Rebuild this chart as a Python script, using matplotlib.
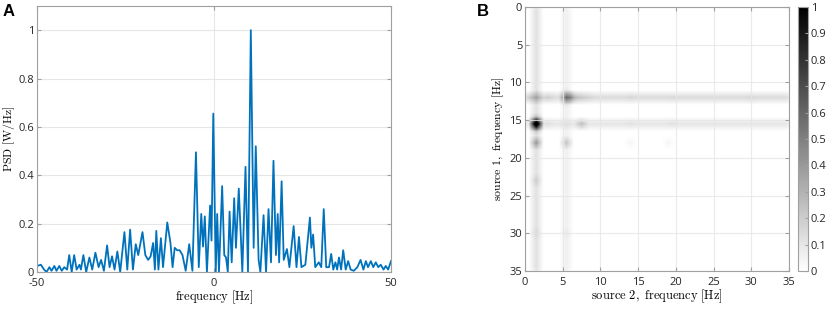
import matplotlib
matplotlib.use('Agg')
import matplotlib.pyplot as plt
import numpy as np

# --- panel A: PSD (peaks and troughs) ---
freq = [-50.0, -48.9, -48.0, -47.3, -46.5, -45.9, -45.1, -44.5, -43.7, -43.0,
        -42.3, -41.5, -40.9, -40.2, -39.5, -38.8, -38.0, -37.6, -36.9, -36.1,
        -35.2, -34.4, -33.5, -32.6, -31.9, -31.1, -30.2, -29.5, -28.8, -28.1,
        -27.3, -26.5, -25.3, -24.5, -23.7, -22.9, -22.1, -21.4, -20.2, -19.4,
        -18.6, -17.9, -17.2, -16.7, -16.3, -15.7, -15.0, -14.4, -13.2, -12.3,
        -11.7, -11.1, -10.4, -9.7, -8.9, -8.0, -7.0, -6.1, -5.1, -4.3,
        -3.6, -3.1, -2.6, -2.0, -1.1, -0.7, -0.2, 0.5, 0.9, 1.4,
        2.3, 2.9, 3.4, 3.9, 4.4, 5.0, 5.7, 6.2, 7.0, 8.0,
        8.9, 9.6, 10.4, 11.2, 11.8, 12.6, 13.1, 14.0, 14.7, 15.4,
        16.1, 16.8, 17.5, 18.0, 18.4, 19.1, 19.7, 20.6, 21.3, 22.5,
        23.3, 24.0, 24.7, 25.8, 27.1, 27.5, 28.0, 28.6, 29.6, 30.3,
        31.0, 31.7, 32.5, 33.1, 33.7, 34.3, 34.8, 35.3, 35.9, 36.5,
        37.2, 37.9, 38.6, 39.5, 40.5, 41.4, 42.2, 42.9, 43.5, 44.3,
        45.0, 45.7, 46.4, 47.1, 47.9, 48.5, 49.2, 50.0]
psd = [0.025, 0.03, 0.01, 0.0, 0.02, 0.005, 0.025, 0.005, 0.025, 0.005,
       0.02, 0.01, 0.07, 0.0, 0.07, 0.01, 0.03, 0.01, 0.07, 0.0,
       0.06, 0.01, 0.08, 0.02, 0.05, 0.005, 0.11, 0.02, 0.065, 0.01,
       0.085, 0.0, 0.165, 0.01, 0.175, 0.01, 0.115, 0.07, 0.165, 0.07,
       0.05, 0.065, 0.12, 0.01, 0.17, 0.01, 0.14, 0.02, 0.205, 0.12,
       0.02, 0.1, 0.09, 0.09, 0.07, 0.005, 0.115, 0.005, 0.495, 0.02,
       0.24, 0.105, 0.23, 0.0, 0.275, 0.13, 0.655, 0.0, 0.24, 0.0,
       0.355, 0.07, 0.06, 0.0, 0.25, 0.04, 0.305, 0.1, 0.345, 0.0,
       0.435, 0.0, 1.0, 0.1, 0.52, 0.05, 0.0, 0.235, 0.0, 0.26,
       0.04, 0.46, 0.07, 0.24, 0.04, 0.375, 0.05, 0.095, 0.02, 0.19,
       0.02, 0.145, 0.02, 0.03, 0.225, 0.1, 0.155, 0.02, 0.04, 0.02,
       0.26, 0.02, 0.02, 0.075, 0.01, 0.04, 0.01, 0.06, 0.01, 0.09,
       0.01, 0.045, 0.01, 0.005, 0.02, 0.05, 0.01, 0.045, 0.02, 0.045,
       0.02, 0.04, 0.02, 0.03, 0.01, 0.025, 0.01, 0.045]

# --- panel B: cross-frequency map on a 0.5 Hz grid ---
grid_hz = np.arange(0, 35.5, 0.5)
row_stripe_hz = [12.0, 15.5]
row_stripe_val = [0.07, 0.05]
col_stripe_hz = [1.5, 5.5]
col_stripe_val = [0.06, 0.03]
peak_row = [15.5, 15.0, 16.0,
            12.0, 12.0, 12.0, 12.0, 12.0, 11.5, 12.5,
            12.0, 18.0, 18.0,
            15.5, 15.5, 12.0, 12.0,
            23.0, 30.0, 30.0,
            12.0, 12.0, 12.0, 15.5, 15.5, 18.0, 18.0]
peak_col = [1.5, 1.5, 1.5,
            5.5, 6.0, 6.5, 7.5, 8.5, 5.5, 5.5,
            1.5, 1.5, 5.5,
            7.5, 3.0, 3.0, 0.5,
            1.5, 1.5, 5.5,
            14.0, 19.5, 30.0, 14.0, 19.5, 14.0, 19.0]
peak_val = [1.0, 0.3, 0.25,
            0.35, 0.2, 0.18, 0.15, 0.1, 0.1, 0.1,
            0.25, 0.35, 0.2,
            0.2, 0.08, 0.12, 0.12,
            0.14, 0.1, 0.06,
            0.09, 0.08, 0.09, 0.07, 0.07, 0.04, 0.04]
spread = [0.5, 1.0, 0.5]  # the map looks smoothed over about +-0.5 Hz

n = len(grid_hz)
mat = np.zeros((n, n))
for r, v in zip(row_stripe_hz, row_stripe_val):
    mat[int(r * 2), :] = np.maximum(mat[int(r * 2), :], v)
for c, v in zip(col_stripe_hz, col_stripe_val):
    mat[:, int(c * 2)] = np.maximum(mat[:, int(c * 2)], v)
for r, c, v in zip(peak_row, peak_col, peak_val):
    mat[int(r * 2), int(c * 2)] = max(mat[int(r * 2), int(c * 2)], v)
mat = np.apply_along_axis(lambda a: np.convolve(a, spread, mode='same'), 0, mat)
mat = np.apply_along_axis(lambda a: np.convolve(a, spread, mode='same'), 1, mat)

plt.rcParams['font.family'] = 'Open Sans'
plt.rcParams['mathtext.fontset'] = 'cm'
plt.rcParams['font.size'] = 8
plt.rcParams['axes.unicode_minus'] = False
spine_col = '#a0a0a0'
grid_col = '#e6e6e6'


def matlab_style(ax):
    for s in ax.spines.values():
        s.set_color(spine_col)
        s.set_linewidth(0.8)
    ax.tick_params(direction='in', top=True, right=True, length=3,
                   color=spine_col, labelsize=8, labelcolor='#262626', pad=2)
    ax.tick_params(axis='x', pad=4)


fig = plt.figure(figsize=(8.29, 3.09), dpi=100)

# panel A
ax1 = fig.add_axes([37 / 829, 37 / 309, 354 / 829, 266 / 309])
ax1.plot(freq, psd, color='#0072BD', lw=1.3)
ax1.set_xlim(-50, 50)
ax1.set_ylim(0, 1.1)
ax1.set_xticks([-50, 0, 50])
ax1.set_yticks([0, 0.2, 0.4, 0.6, 0.8, 1])
ax1.set_yticklabels(['0', '0.2', '0.4', '0.6', '0.8', '1'])
ax1.grid(True, color=grid_col, lw=0.8)
ax1.set_axisbelow(True)
matlab_style(ax1)
ax1.set_xlabel(r'$\mathrm{frequency\ [Hz]}$', fontsize=9, labelpad=0)
ax1.set_ylabel(r'$\mathrm{PSD\ [W/Hz]}$', fontsize=8.5)
ax1.yaxis.set_label_coords(-0.056, 0.5)
fig.text(3 / 829, 1 - 4 / 309, 'A', fontsize=12, fontweight='bold',
         va='top', family='Liberation Sans')

# panel B
ax2 = fig.add_axes([525 / 829, 38 / 309, 264 / 829, 264 / 309])
im = ax2.imshow(mat, cmap='gray_r', vmin=0, vmax=1, interpolation='bilinear',
                extent=[-0.25, 35.25, 35.25, -0.25], aspect='auto')
ax2.set_xlim(0, 35)
ax2.set_ylim(35, 0)
ax2.set_xticks(range(0, 40, 5))
ax2.set_yticks(range(0, 40, 5))
ax2.grid(True, color=grid_col, lw=0.8, alpha=0.8)
matlab_style(ax2)
ax2.set_xlabel(r'$\mathrm{source\ 2,\ frequency\ [Hz]}$', fontsize=9, labelpad=0)
ax2.set_ylabel(r'$\mathrm{source\ 1,\ frequency\ [Hz]}$', fontsize=8.5)
ax2.yaxis.set_label_coords(-0.072, 0.5)
fig.text(477 / 829, 1 - 4 / 309, 'B', fontsize=12, fontweight='bold',
         va='top', family='Liberation Sans')

cax = fig.add_axes([798 / 829, 38 / 309, 10 / 829, 264 / 309])
cb = fig.colorbar(im, cax=cax)
cb.set_ticks([0, 0.1, 0.2, 0.3, 0.4, 0.5, 0.6, 0.7, 0.8, 0.9, 1])
cb.set_ticklabels(['0', '0.1', '0.2', '0.3', '0.4', '0.5', '0.6', '0.7',
                   '0.8', '0.9', '1'])
cb.outline.set_edgecolor(spine_col)
cb.outline.set_linewidth(0.8)
cax.tick_params(direction='in', length=2, color=spine_col, labelsize=8,
                labelcolor='#262626', pad=2)

fig.savefig('out.png', dpi=100)
